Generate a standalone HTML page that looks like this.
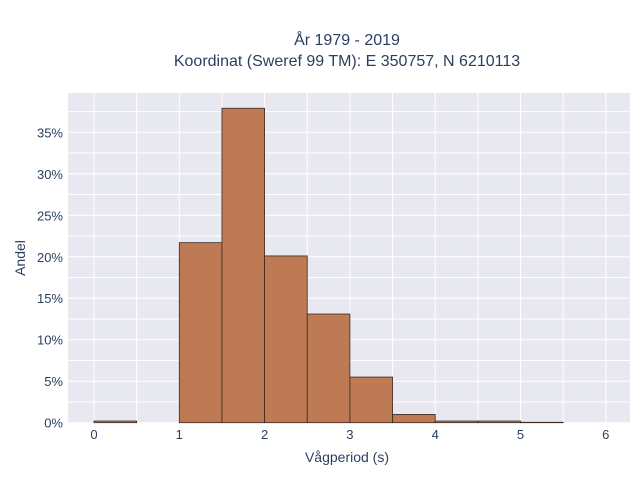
<!DOCTYPE html>
<html><head><meta charset="utf-8"><style>
body{margin:0;background:#fff;font-family:"Liberation Sans",sans-serif}
svg text{font-family:"Liberation Sans",sans-serif;fill:#2a3f5f}
</style></head><body>
<svg id="chart" width="640" height="480" xmlns="http://www.w3.org/2000/svg">
<text x="347" y="45" text-anchor="middle" font-size="16" fill="#333">År 1979 - 2019</text>
<text x="347" y="66" text-anchor="middle" font-size="16" fill="#333">Koordinat (Sweref 99 TM): E 350757, N 6210113</text>
<rect x="68" y="93" width="562" height="330" fill="#e8e8f0"/>
<g id="grid"></g>
<g id="bars"></g>
<g id="xticks"></g>
<g id="yticks"></g>
<text x="347" y="462" text-anchor="middle" font-size="14" fill="#333">Vågperiod (s)</text>
<text transform="translate(25,258) rotate(-90)" text-anchor="middle" font-size="14" fill="#333">Andel</text>
</svg>
<script>
const binStarts=[0,1,1.5,2,2.5,3,3.5,4,4.5,5];
const binWidth=0.5;
const shares=[0.2,21.7,37.9,20.1,13.1,5.5,1.0,0.2,0.2,0.05];
const xTicks=[0,1,2,3,4,5,6];
const yTicks=[0,5,10,15,20,25,30,35];
const NS="http://www.w3.org/2000/svg";
const X=v=>94+v*85.3;
const Y=v=>422.7-v*8.297;
const grid=document.getElementById('grid'),bars=document.getElementById('bars'),xt=document.getElementById('xticks'),yt=document.getElementById('yticks');
function mk(tag,attrs){const e=document.createElementNS(NS,tag);for(const k in attrs)e.setAttribute(k,attrs[k]);return e;}
for(let v=0;v<=6.5;v+=0.5){const x=X(v);if(x>630)break;const l=mk('line',{x1:x,x2:x,y1:93,y2:423,stroke:'#fff','stroke-width':1});


grid.appendChild(l);}
for(let v=0;v<=37.5;v+=2.5){const y=Y(v);if(y<93)break;const l=mk('line',{x1:68,x2:630,y1:y,y2:y,stroke:'#fff','stroke-width':1});


grid.appendChild(l);}
binStarts.forEach((s,i)=>{const x0=X(s),x1=X(s+binWidth),y=Y(shares[i]);
const r=mk('rect',{x:x0,y:y,width:x1-x0,height:Y(0)-y,fill:'#bd7a55',stroke:'#3a2a20','stroke-width':0.8});


bars.appendChild(r);});
xTicks.forEach(v=>{const t=mk('text',{x:X(v),y:439,'text-anchor':'middle','font-size':13,fill:'#333'});t.textContent=v;


xt.appendChild(t);});
yTicks.forEach(v=>{const t=mk('text',{x:63,y:Y(v)+5,'text-anchor':'end','font-size':13,fill:'#333'});t.textContent=v+'%';


yt.appendChild(t);});
</script>
</body></html>
